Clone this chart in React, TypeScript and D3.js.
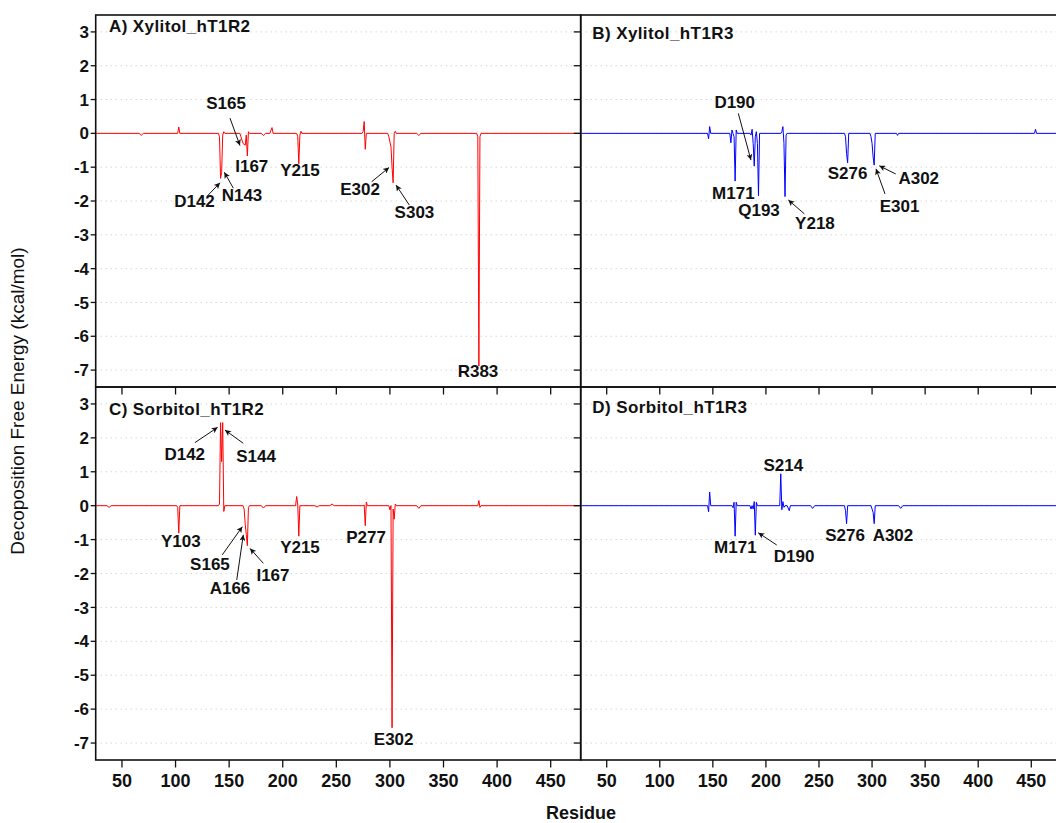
import React from "react";
import * as d3 from "d3";

// ---------- DATA ----------
const residueTicks = [50, 100, 150, 200, 250, 300, 350, 400, 450];
const energyTicks = [3, 2, 1, 0, -1, -2, -3, -4, -5, -6, -7];
const residueDomain: [number, number] = [25.5, 478];
const energyDomain: [number, number] = [-7.5, 3.5];

type Pt = [number, number];

const xylitolT1R2: Pt[] = [
  [26, 0], [66, 0], [68, -0.06], [70, 0], [102, 0], [103, 0.19], [104, 0],
  [140, 0], [141, -0.1], [142, -1.33], [143, -1.16], [144, -0.05], [145, 0.05], [146, 0],
  [160, 0], [161, -0.1], [163, -0.3], [165, -0.35], [166, -0.05], [167, -0.67], [168, 0.05], [169, 0],
  [180, 0], [182, -0.06], [184, 0], [188, 0], [190, 0.17], [191, 0],
  [213, 0], [214, -0.1], [215, -0.9], [216, -0.05], [217, 0.06], [218, 0],
  [274, 0], [275, 0.05], [276, 0.35], [277, -0.47], [278, 0],
  [298, 0], [299, -0.1], [301, -0.4], [302, -1.0], [303, -1.46], [304, 0], [305, 0.06], [306, 0],
  [325, 0], [327, -0.06], [329, 0],
  [381, 0], [382, -0.1], [383, -6.88], [384, -0.1], [385, 0], [478, 0],
];

const xylitolT1R3: Pt[] = [
  [26, 0], [145, 0], [146, -0.16], [147, 0.2], [148, 0],
  [166, 0], [167, -0.28], [168, 0.1], [169, 0], [170, -0.1], [171, -1.41], [172, 0.1], [173, 0],
  [185, 0], [186, -0.05], [187, 0.12], [188, -0.3], [189, -0.97], [190, -0.1], [191, 0.05],
  [192, -0.3], [193, -1.85], [194, 0],
  [214, 0], [215, 0.05], [216, 0.2], [217, -0.3], [218, -1.87], [219, -0.05], [220, 0],
  [274, 0], [275, -0.1], [276, -0.6], [277, -0.87], [278, 0],
  [298, 0], [299, -0.1], [300, -0.3], [301, -0.7], [302, -0.94], [303, 0],
  [323, 0], [324, -0.06], [325, 0],
  [453, 0], [454, 0.12], [455, 0], [478, 0],
];

const sorbitolT1R2: Pt[] = [
  [26, 0], [36, 0], [38, -0.05], [40, 0],
  [101, 0], [102, -0.05], [103, -0.81], [104, 0],
  [140, 0], [141, 0.05], [142, 2.45], [143, 1.3], [144, 2.45], [145, -0.17], [146, 0],
  [163, 0], [164, -0.1], [165, -0.55], [166, -0.85], [167, -1.18], [168, -0.05], [169, 0],
  [180, 0], [182, -0.07], [184, 0],
  [212, 0], [213, 0.27], [214, 0.05], [215, -0.9], [216, 0],
  [230, 0], [232, -0.04], [234, 0], [244, 0], [246, 0.05], [248, 0],
  [275, 0], [276, 0.02], [277, -0.59], [278, 0.11], [279, 0],
  [299, 0], [300, -0.12], [301, 0], [302, -6.55], [303, -0.1], [304, -0.4], [305, 0.05], [306, 0],
  [325, 0], [327, -0.08], [329, 0],
  [382, 0], [383, 0.15], [384, -0.05], [385, 0], [478, 0],
];

const sorbitolT1R3: Pt[] = [
  [26, 0], [145, 0], [146, -0.18], [147, 0.4], [148, 0],
  [168, 0], [169, -0.06], [170, 0.1], [171, -0.9], [172, 0.1], [173, 0],
  [185, 0], [186, -0.1], [187, 0], [188, -0.1], [189, 0.12], [190, -0.87], [191, 0.1], [192, 0],
  [213, 0], [214, 0.94], [215, -0.12], [216, 0.12], [217, -0.05], [218, 0],
  [220, 0], [222, -0.15], [223, 0],
  [242, 0], [244, -0.08], [246, 0],
  [274, 0], [275, -0.15], [276, -0.53], [277, 0],
  [299, 0], [300, -0.1], [301, -0.2], [302, -0.53], [303, 0],
  [325, 0], [327, -0.08], [329, 0], [478, 0],
];

type Note = { label: string; at: Pt; arrow?: [Pt, Pt] };

const notesA: Note[] = [
  { label: "S165", at: [147.1, 0.72], arrow: [[150.8, 0.45], [160.1, -0.36]] },
  { label: "I167", at: [171.1, -1.15] },
  { label: "Y215", at: [216.1, -1.26] },
  { label: "D142", at: [117.7, -2.19], arrow: [[129.1, -1.87], [141.5, -1.46]] },
  { label: "N143", at: [162.0, -1.99], arrow: [[153.9, -1.62], [145.5, -1.15]] },
  { label: "E302", at: [272.1, -1.82], arrow: [[283.0, -1.43], [299.2, -1.01]] },
  { label: "S303", at: [322.9, -2.51], arrow: [[318.1, -2.12], [305.7, -1.53]] },
  { label: "R383", at: [382.2, -7.19] },
];

const notesB: Note[] = [
  { label: "D190", at: [170.6, 0.74], arrow: [[174.0, 0.59], [185.9, -0.79]] },
  { label: "M171", at: [169.3, -1.94] },
  { label: "Q193", at: [193.5, -2.43] },
  { label: "Y218", at: [246.2, -2.84], arrow: [[236.2, -2.38], [221.1, -1.97]] },
  { label: "S276", at: [276.9, -1.35] },
  { label: "A302", at: [344.0, -1.5], arrow: [[322.3, -1.2], [306.8, -0.96]] },
  { label: "E301", at: [325.9, -2.34], arrow: [[312.2, -1.79], [303.7, -1.05]] },
];

const notesC: Note[] = [
  { label: "D142", at: [108.6, 1.35], arrow: [[118.1, 1.86], [139.3, 2.31]] },
  { label: "S144", at: [175.1, 1.28], arrow: [[163.2, 1.84], [146.1, 2.23]] },
  { label: "Y103", at: [104.9, -1.21] },
  { label: "S165", at: [132.1, -1.9], arrow: [[143.6, -1.45], [162.3, -0.62]] },
  { label: "A166", at: [150.8, -2.6], arrow: [[157.1, -2.19], [163.2, -0.86]] },
  { label: "I167", at: [190.9, -2.21], arrow: [[181.9, -1.7], [169.5, -1.26]] },
  { label: "Y215", at: [216.1, -1.4] },
  { label: "P277", at: [277.7, -1.11] },
  { label: "E302", at: [303.5, -7.06] },
];

const notesD: Note[] = [
  { label: "S214", at: [216.4, 1.03] },
  { label: "M171", at: [171.2, -1.39] },
  { label: "D190", at: [226.6, -1.65], arrow: [[210.2, -1.16], [192.8, -0.8]] },
  { label: "S276", at: [274.5, -1.03] },
  { label: "A302", at: [319.7, -1.03] },
];

const panelTitles = ["A) Xylitol_hT1R2", "B) Xylitol_hT1R3", "C) Sorbitol_hT1R2", "D) Sorbitol_hT1R3"];
const panelSeries = [xylitolT1R2, xylitolT1R3, sorbitolT1R2, sorbitolT1R3];
const panelNotes = [notesA, notesB, notesC, notesD];
const panelColors = ["#ff0000", "#0000ff", "#ff0000", "#0000ff"];

// ---------- LAYOUT ----------
const W = 1056;
const H = 823;
const FONT = "'Liberation Sans', Arial, Helvetica, sans-serif";
const boxes = [
  { x0: 95.7, x1: 580.7, y0: 15, y1: 387, tx: 109, ty: 32.3, left: true, bottom: false },
  { x0: 580.7, x1: 1061, y0: 15, y1: 387, tx: 592.3, ty: 39, left: false, bottom: false },
  { x0: 95.7, x1: 580.7, y0: 387, y1: 760, tx: 109, ty: 415, left: true, bottom: true },
  { x0: 580.7, x1: 1061, y0: 387, y1: 760, tx: 592.3, ty: 413.3, left: false, bottom: true },
];

function Panel({ i }: { i: number }) {
  const b = boxes[i];
  const x = d3.scaleLinear().domain(residueDomain).range([b.x0, b.x1]);
  const y = d3.scaleLinear().domain(energyDomain).range([b.y1, b.y0]);
  const line = d3
    .line<Pt>()
    .x((d) => x(d[0]))
    .y((d) => y(d[1]));
  const clipId = `clip${i}`;
  const tickLen = b.left ? 5 : 7;
  return (
    <g>
      <defs>
        <clipPath id={clipId}>
          <rect x={b.x0} y={b.y0} width={b.x1 - b.x0} height={b.y1 - b.y0} />
        </clipPath>
      </defs>
      {/* grid */}
      <g clipPath={`url(#${clipId})`}>
        {energyTicks.map((t) => (
          <line
            key={t}
            x1={b.x0}
            x2={b.x1}
            y1={y(t)}
            y2={y(t)}
            stroke="#c4c4c4"
            strokeWidth={1}
            strokeDasharray="1 4"
          />
        ))}
        <path d={line(panelSeries[i]) || ""} fill="none" stroke={panelColors[i]} strokeWidth={1} />
      </g>
      {/* frame */}
      <rect x={b.x0} y={b.y0} width={b.x1 - b.x0} height={b.y1 - b.y0} fill="none" stroke="#111" strokeWidth={1.6} />
      {/* y ticks */}
      {energyTicks.map((t) => (
        <line key={"yt" + t} x1={b.x0 - tickLen} x2={b.x0} y1={y(t)} y2={y(t)} stroke="#111" strokeWidth={1.3} />
      ))}
      {b.left &&
        energyTicks.map((t) => (
          <text
            key={"yl" + t}
            x={89}
            y={y(t)}
            dy="0.36em"
            textAnchor="end"
            fontFamily={FONT}
            fontWeight="bold"
            fontSize={17}
            fill="#111"
          >
            {t}
          </text>
        ))}
      {/* x ticks */}
      {residueTicks.map((t) => (
        <line key={"xt" + t} x1={x(t)} x2={x(t)} y1={b.y1} y2={b.y1 + 7.5} stroke="#111" strokeWidth={1.3} />
      ))}
      {b.bottom &&
        residueTicks.map((t) => (
          <text
            key={"xl" + t}
            x={x(t)}
            y={786.5}
            textAnchor="middle"
            fontFamily={FONT}
            fontWeight="bold"
            fontSize={18}
            fill="#111"
          >
            {t}
          </text>
        ))}
      {/* title */}
      <text x={b.tx} y={b.ty} fontFamily={FONT} fontWeight="bold" fontSize={17} fill="#111" letterSpacing={0.4}>
        {panelTitles[i]}
      </text>
      {/* annotations */}
      {panelNotes[i].map((n, k) => (
        <g key={"n" + k}>
          {n.arrow && (
            <line
              x1={x(n.arrow[0][0])}
              y1={y(n.arrow[0][1])}
              x2={x(n.arrow[1][0])}
              y2={y(n.arrow[1][1])}
              stroke="#111"
              strokeWidth={1}
              markerEnd="url(#arrowHead)"
            />
          )}
          <text
            x={x(n.at[0])}
            y={y(n.at[1])}
            textAnchor="middle"
            fontFamily={FONT}
            fontWeight="bold"
            fontSize={17}
            fill="#111"
          >
            {n.label}
          </text>
        </g>
      ))}
    </g>
  );
}

export default function App() {
  return (
    <div style={{ position: "absolute", left: 0, top: 0 }}>
      <svg width={W} height={H} viewBox={`0 0 ${W} ${H}`} style={{ display: "block", background: "#fff" }}>
        <defs>
          <marker
            id="arrowHead"
            viewBox="0 0 10 10"
            refX={10}
            refY={5}
            markerWidth={8}
            markerHeight={6}
            markerUnits="userSpaceOnUse"
            orient="auto"
          >
            <path d="M0,0 L10,5 L0,10 L2.5,5 z" fill="#111" />
          </marker>
        </defs>
        <rect x={0} y={0} width={W} height={H} fill="#fff" />
        {[0, 1, 2, 3].map((i) => (
          <Panel key={i} i={i} />
        ))}
        <text
          transform={`translate(24,401) rotate(-90)`}
          textAnchor="middle"
          fontFamily={FONT}
          fontSize={19}
          fill="#111"
        >
          Decoposition Free Energy (kcal/mol)
        </text>
        <text x={581} y={819} textAnchor="middle" fontFamily={FONT} fontWeight="bold" fontSize={18} fill="#111">
          Residue
        </text>
      </svg>
    </div>
  );
}
